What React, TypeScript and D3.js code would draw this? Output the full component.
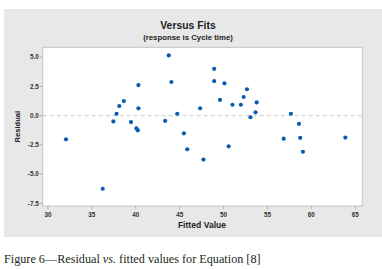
import React from "react";
import * as d3 from "d3";

const fitted = [32.05, 36.24, 37.45, 37.81, 38.12, 38.64, 39.46, 40.07, 40.23, 40.3, 40.3, 43.35, 43.76, 44.06, 44.72, 45.48, 45.86, 47.33, 47.71, 48.93, 48.93, 50.1, 49.59, 50.58, 51.01, 51.97, 52.29, 52.66, 53.06, 53.64, 53.77, 56.85, 57.67, 58.59, 58.73, 59.04, 63.87];
const residual = [-2.02, -6.24, -0.49, 0.16, 0.82, 1.25, -0.55, -1.08, -1.25, 2.61, 0.62, -0.44, 5.14, 2.87, 0.16, -1.51, -2.87, 0.63, -3.75, 3.99, 2.95, 2.76, 1.35, -2.62, 0.93, 0.93, 1.59, 2.25, -0.14, 0.28, 1.13, -1.97, 0.16, -0.7, -1.89, -3.08, -1.87];
const xTicks = [30, 35, 40, 45, 50, 55, 60, 65];
const yTicks = [5.0, 2.5, 0.0, -2.5, -5.0, -7.5];

const W = 382, H = 269;
const L = 42.7, T = 47.3, R = 362.3, B = 206;

export default function App() {
  const x = d3.scaleLinear().domain([29.4, 65.8]).range([L, R]);
  const y = d3.scaleLinear().domain([5.83, -7.71]).range([T, B]);
  const sans = "Liberation Sans, Arial, sans-serif";
  return (
    <svg width={W} height={H} style={{ position: "absolute", left: 0, top: 0, background: "#fff" }}>
      <rect x={4} y={9} width={W - 4} height={228} fill="#e8e8e8" />
      <rect x={L} y={T} width={R - L} height={B - T} fill="#fff" stroke="#c4c4c4" strokeWidth={1} />
      <text x={188} y={28.5} textAnchor="middle" fontFamily={sans} fontWeight="bold" fontSize={10.4} fill="#222">Versus Fits</text>
      <text x={188} y={40} textAnchor="middle" fontFamily={sans} fontWeight="bold" fontSize={7.8} fill="#222">(response is Cycle time)</text>
      <line x1={L} x2={R} y1={y(0)} y2={y(0)} stroke="#bdbdbd" strokeWidth={0.8} strokeDasharray="4,3" />
      {yTicks.map((t) => (
        <g key={"y" + t}>
          <line x1={L - 3} x2={L} y1={y(t)} y2={y(t)} stroke="#999" strokeWidth={0.7} />
          <text x={L - 4} y={y(t) + 2.2} textAnchor="end" fontFamily={sans} fontWeight="bold" fontSize={6.3} fill="#333">{t.toFixed(1)}</text>
        </g>
      ))}
      {xTicks.map((t) => (
        <g key={"x" + t}>
          <line x1={x(t)} x2={x(t)} y1={B} y2={B + 3} stroke="#999" strokeWidth={0.7} />
          <text x={x(t)} y={B + 10.5} textAnchor="middle" fontFamily={sans} fontWeight="bold" fontSize={6.3} fill="#333">{t}</text>
        </g>
      ))}
      <text x={202} y={227.5} textAnchor="middle" fontFamily={sans} fontWeight="bold" fontSize={8.6} fill="#222">Fitted Value</text>
      <text transform={`translate(19.5,${(T + B) / 2}) rotate(-90)`} textAnchor="middle" fontFamily={sans} fontWeight="bold" fontSize={7.6} fill="#222">Residual</text>
      {fitted.map((f, i) => (
        <circle key={i} cx={x(f)} cy={y(residual[i])} r={2.1} fill="#0a5cb0" />
      ))}
      <text x={4} y={263} fontFamily="Liberation Serif, Times New Roman, serif" fontSize={12.2} fill="#231f20">
        Figure 6—Residual <tspan fontStyle="italic">vs.</tspan> fitted values for Equation [8]
      </text>
    </svg>
  );
}
